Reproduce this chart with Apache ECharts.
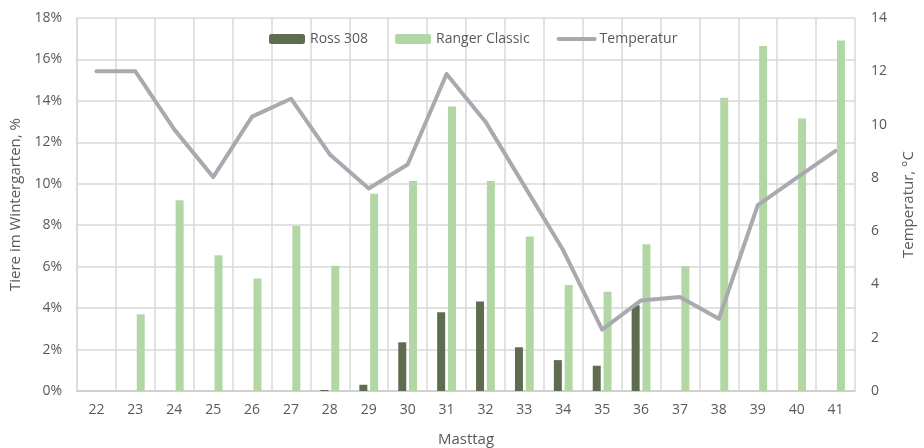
<!DOCTYPE html>
<html>
<head>
<meta charset="utf-8">
<script src="https://cdn.jsdelivr.net/npm/echarts@6/dist/echarts.min.js"></script>
<style>
  html, body { margin: 0; padding: 0; background: #fff; }
  #chart { width: 924px; height: 448px; }
</style>
</head>
<body>
<div id="chart"></div>
<script>
const days = ['22', '23', '24', '25', '26', '27', '28', '29', '30', '31', '32', '33', '34', '35', '36', '37', '38', '39', '40', '41'];
const ross308 = [0, 0, 0, 0, 0, 0, 0.05, 0.3, 2.35, 3.8, 4.32, 2.11, 1.49, 1.22, 4.14, 0, 0, 0, 0, 0];
const rangerClassic = [0, 3.7, 9.21, 6.55, 5.43, 7.97, 6.04, 9.52, 10.14, 13.73, 10.14, 7.45, 5.11, 4.79, 7.08, 6.03, 14.15, 16.65, 13.15, 16.91];
const temperatur = [12, 12, 9.82, 8.03, 10.3, 10.97, 8.88, 7.6, 8.5, 11.9, 10.11, 7.7, 5.28, 2.3, 3.4, 3.53, 2.71, 6.98, 8.0, 9.01];

const textColor = '#595959';
const gridColor = '#d9d9d9';
const font = 'Open Sans';

const chart = echarts.init(document.getElementById('chart'));
chart.setOption({
  animation: false,
  textStyle: { fontFamily: font, color: textColor },
  grid: { left: 77, right: 69, top: 18, bottom: 57, outerBoundsMode: 'none' },
  legend: {
    left: 264,
    top: 27,
    itemWidth: 36,
    itemHeight: 10,
    itemGap: 27,
    textStyle: { fontFamily: font, fontSize: 14, color: textColor },
    data: [
      'Ross 308',
      'Ranger Classic',
      {
        name: 'Temperatur',
        itemStyle: { color: 'rgba(0,0,0,0)', borderColor: 'rgba(0,0,0,0)', borderWidth: 0 },
        lineStyle: { width: 4, color: '#a9a9b0', cap: 'round' },
      },
    ],
  },
  xAxis: {
    type: 'category',
    data: days,
    name: 'Masttag',
    nameLocation: 'middle',
    nameGap: 41,
    nameTextStyle: { fontSize: 15, color: textColor },
    axisLine: { lineStyle: { color: '#d0d0d0', width: 2 } },
    axisTick: { show: false },
    axisLabel: { fontSize: 14, color: textColor, margin: 12 },
    splitLine: { show: true, lineStyle: { color: gridColor, width: 1.5 } },
  },
  yAxis: [
    {
      type: 'value',
      min: 0,
      max: 18,
      interval: 2,
      name: 'Tiere im Wintergarten, %',
      nameLocation: 'middle',
      nameGap: 53,
      nameTextStyle: { fontSize: 15, color: textColor },
      axisLine: { show: true, lineStyle: { color: gridColor, width: 1.5 } },
      axisLabel: { fontSize: 14, color: textColor, margin: 15, formatter: '{value}%' },
      splitLine: { lineStyle: { color: gridColor, width: 1.5 } },
    },
    {
      type: 'value',
      min: 0,
      max: 14,
      interval: 2,
      name: 'Temperatur, °C',
      nameLocation: 'middle',
      nameGap: 46,
      nameRotate: 90,
      nameTextStyle: { fontSize: 15, color: textColor },
      axisLine: { show: false },
      axisLabel: { fontSize: 14, color: textColor, margin: 16 },
      splitLine: { show: false },
    },
  ],
  series: [
    {
      name: 'Ross 308',
      type: 'bar',
      data: ross308,
      barWidth: 8,
      barGap: '35%',
      itemStyle: { color: '#5e6c50' },
    },
    {
      name: 'Ranger Classic',
      type: 'bar',
      data: rangerClassic,
      barWidth: 8,
      itemStyle: { color: '#b3d7a4' },
    },
    {
      name: 'Temperatur',
      type: 'line',
      yAxisIndex: 1,
      data: temperatur,
      symbol: 'none',
      lineStyle: { color: '#a9a9b0', width: 4, cap: 'round', join: 'round' },
      itemStyle: { color: '#a9a9b0' },
    },
  ],
});
</script>
</body>
</html>
